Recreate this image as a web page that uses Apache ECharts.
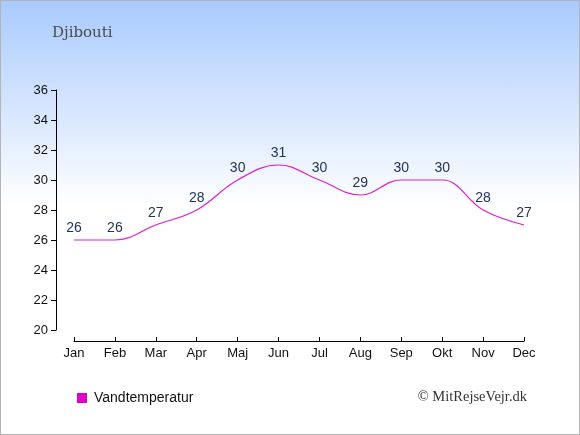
<!DOCTYPE html>
<html>
<head>
    <meta charset="utf-8">
    <title>Djibouti</title>
    <style>
        html, body { margin: 0; padding: 0; background: #fff; }
        #main {
            width: 578px; height: 433px;
            border: 1px solid #b4b4b4;
            background: linear-gradient(to bottom, #a9cbfd 0px, #d6e6fe 110px, #ffffff 205px, #ffffff 100%);
        }
    </style>
</head>
<body>
<div id="main"></div>
<script src="https://cdn.jsdelivr.net/npm/echarts@6/dist/echarts.min.js"></script>
<script type="text/javascript">
    // data
    var months = ['Jan', 'Feb', 'Mar', 'Apr', 'Maj', 'Jun', 'Jul', 'Aug', 'Sep', 'Okt', 'Nov', 'Dec'];
    var waterTemp = [26, 26, 27, 28, 30, 31, 30, 29, 30, 30, 28, 27];
    var yTicks = [20, 22, 24, 26, 28, 30, 32, 34, 36];

    var myChart = echarts.init(document.getElementById('main'), null, {renderer: 'canvas'});

    var option = {
        backgroundColor: 'transparent',
        animation: false,
        title: {
            text: 'Djibouti',
            left: 46, top: 20,
            textStyle: {
                fontFamily: 'DejaVu Serif',
                fontWeight: 'normal',
                fontSize: 15,
                color: '#4a4a4a'
            }
        },
        legend: {
            left: 71, top: 385,
            itemWidth: 10, itemHeight: 10,
            itemGap: 8,
            icon: 'rect',
            textStyle: {fontFamily: 'Liberation Sans', fontSize: 14, color: '#111', padding: [0, 0, 0, 2]},
            data: [{name: 'Vandtemperatur', itemStyle: {color: '#dd00cc'}}]
        },
        graphic: [{
            type: 'text',
            right: 52, top: 389,
            style: {
                text: '© MitRejseVejr.dk',
                font: '14.5px "Liberation Serif"',
                fill: '#333'
            }
        }],
        grid: {left: 73, right: 55, top: 89, bottom: 104},
        xAxis: {
            type: 'category',
            data: months,
            boundaryGap: false,
            offset: 11,
            axisLine: {lineStyle: {color: '#000', width: 1}},
            axisTick: {alignWithLabel: true, inside: true, length: 4, lineStyle: {color: '#000'}},
            axisLabel: {color: '#111', fontFamily: 'Liberation Sans', fontSize: 13, margin: 6},
            splitLine: {show: false}
        },
        yAxis: {
            type: 'value',
            min: yTicks[0], max: yTicks[yTicks.length - 1], interval: 2,
            offset: 18,
            axisLine: {show: true, lineStyle: {color: '#000', width: 1}},
            axisTick: {show: true, length: 5, lineStyle: {color: '#000'}},
            axisLabel: {color: '#111', fontFamily: 'Liberation Sans', fontSize: 13, margin: 8},
            splitLine: {show: false}
        },
        series: [{
            name: 'Vandtemperatur',
            type: 'line',
            data: waterTemp,
            smooth: 0.4,
            showSymbol: true,
            symbol: 'circle',
            symbolSize: 0.1,
            itemStyle: {color: '#dd00cc'},
            lineStyle: {color: '#dd22cc', width: 1.2},
            label: {
                show: true,
                position: 'top',
                distance: 5,
                color: '#223355',
                fontFamily: 'Liberation Sans',
                fontSize: 14
            }
        }]
    };
    myChart.setOption(option);
</script>
</body>
</html>
